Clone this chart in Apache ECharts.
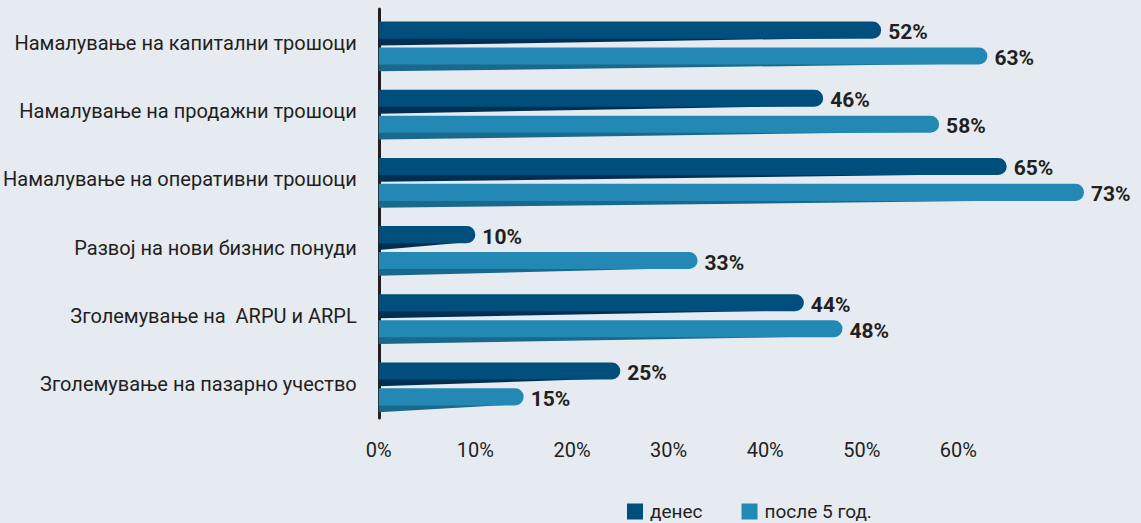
<!DOCTYPE html>
<html>
<head>
<meta charset="utf-8">
<script src="https://cdn.jsdelivr.net/npm/echarts@6/dist/echarts.min.js"></script>
<style>
html,body{margin:0;padding:0;background:#e6ebf2;}
#chart{width:1141px;height:523px;}
</style>
</head>
<body>
<div id="chart"></div>
<script>
const categories = [
  'Намалување на капитални трошоци',
  'Намалување на продажни трошоци',
  'Намалување на оперативни трошоци',
  'Развој на нови бизнис понуди',
  'Зголемување на  ARPU и ARPL',
  'Зголемување на пазарно учество'
];
const seriesNames = ['денес', 'после 5 год.'];
const todayValues = [52, 46, 65, 10, 44, 25];
const after5Values = [63, 58, 73, 33, 48, 15];
const xTicks = [0, 10, 20, 30, 40, 50, 60];

const colors = ['#004e7c', '#2389b4'];
const wedgeColors = ['#002f52', '#1a688b'];
const FONT = 'Roboto, "Noto Sans", sans-serif';

function makeRender(idx) {
  return function (params, api) {
    const val = api.value(0);
    const cat = api.value(1);
    const start = api.coord([0, cat]);
    const end = api.coord([val, cat]);
    const band = api.size([0, 1])[1];
    const h = band * 0.25;
    const off = band * 0.19 * (idx === 0 ? -1 : 1);
    const cy = start[1] + off;
    const x0 = start[0];
    const x1 = end[0];
    const w = x1 - x0;
    const r = h / 2;
    return {
      type: 'group',
      children: [
        {
          type: 'polygon',
          shape: { points: [[x0, cy + h / 2 - 1], [x1 - r, cy + h / 2 - 1], [x0, cy + h / 2 + band * 0.1]] },
          style: { fill: wedgeColors[idx] }
        },
        {
          type: 'rect',
          shape: { x: x0, y: cy - h / 2, width: w, height: h, r: [0, r, r, 0] },
          style: { fill: colors[idx] }
        },
        {
          type: 'text',
          style: {
            text: val + '%',
            x: x1 + 7,
            y: cy + 2,
            verticalAlign: 'middle',
            align: 'left',
            fill: '#231f20',
            font: 'bold 21px ' + FONT
          }
        }
      ]
    };
  };
}

const chart = echarts.init(document.getElementById('chart'), null, { renderer: 'svg' });
chart.setOption({
  backgroundColor: '#e6ebf2',
  animation: false,
  grid: { left: 378, right: 28, top: 9, bottom: 105, containLabel: false },
  legend: {
    data: seriesNames.map((n, i) => ({ name: n, itemStyle: { color: colors[i] } })),
    left: 627,
    top: 502,
    padding: 0,
    icon: 'rect',
    itemWidth: 16,
    itemHeight: 16,
    itemGap: 39,
    textStyle: { fontFamily: FONT, fontSize: 19, lineHeight: 19, color: '#231f20', padding: [0, 0, 0, 2] }
  },
  xAxis: {
    type: 'value',
    min: 0,
    max: 76,
    interval: 10,
    splitLine: { show: false },
    axisLine: { show: false },
    axisTick: { show: false },
    axisLabel: {
      margin: 22,
      fontFamily: FONT,
      fontSize: 20,
      color: '#231f20',
      formatter: v => (xTicks.indexOf(v) >= 0 ? v + '%' : '')
    }
  },
  yAxis: {
    type: 'category',
    data: categories,
    inverse: true,
    axisLine: { show: true, lineStyle: { color: '#231f20', width: 3 } },
    axisTick: { show: false },
    axisLabel: {
      margin: 22,
      fontFamily: FONT,
      fontSize: 20,
      color: '#231f20',
      padding: [6, 0, 0, 0]
    }
  },
  series: [
    {
      name: seriesNames[0],
      type: 'custom',
      itemStyle: { color: colors[0] },
      encode: { x: 0, y: 1 },
      data: todayValues.map((v, i) => [v, i]),
      renderItem: makeRender(0)
    },
    {
      name: seriesNames[1],
      type: 'custom',
      itemStyle: { color: colors[1] },
      encode: { x: 0, y: 1 },
      data: after5Values.map((v, i) => [v, i]),
      renderItem: makeRender(1)
    }
  ]
});
</script>
</body>
</html>
